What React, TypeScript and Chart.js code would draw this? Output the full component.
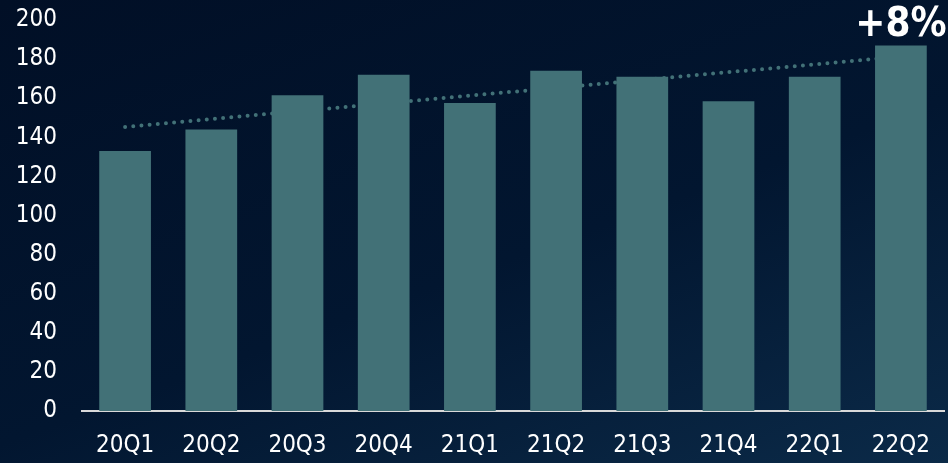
import React, { useEffect, useRef } from "react";
import { Chart, registerables } from "chart.js";

Chart.register(...registerables);

const categories = ["20Q1", "20Q2", "20Q3", "20Q4", "21Q1", "21Q2", "21Q3", "21Q4", "22Q1", "22Q2"];
const values = [133, 144, 161.5, 172, 157.5, 174, 171, 158.5, 171, 187];
const trend = [145.3, null, null, null, null, null, null, null, null, 181.3];
const yTicks = [0, 20, 40, 60, 80, 100, 120, 140, 160, 180, 200];
const growthLabel = "+8%";

const FONT = "'DejaVu Sans Condensed', 'DejaVu Sans', sans-serif";
const BAR = "#427177";

export default function App() {
  const ref = useRef<HTMLCanvasElement | null>(null);
  useEffect(() => {
    if (!ref.current) return;
    const labelPlugin = {
      id: "growthLabel",
      afterDraw(chart: any) {
        const ctx = chart.ctx;
        const meta = chart.getDatasetMeta(1);
        const last = meta.data[meta.data.length - 1];
        const y = chart.scales.y.getPixelForValue(values[values.length - 1]);
        ctx.save();
        ctx.fillStyle = "#ffffff";
        ctx.font = "bold 40px " + FONT;
        ctx.textAlign = "center";
        ctx.textBaseline = "alphabetic";
        ctx.fillText(growthLabel, last.x, y - 9);
        ctx.restore();
      },
    };
    const chart = new Chart(ref.current, {
      type: "bar",
      data: {
        labels: categories,
        datasets: [
          {
            type: "line",
            data: trend,
            spanGaps: true,
            borderColor: BAR,
            borderWidth: 4,
            borderDash: [0, 8.2],
            borderCapStyle: "round",
            pointRadius: 0,
            order: 1,
          } as any,
          {
            type: "bar",
            data: values,
            backgroundColor: BAR,
            barPercentage: 0.6,
            categoryPercentage: 1,
            order: 0,
          },
        ],
      },
      options: {
        animation: false,
        responsive: false,
        devicePixelRatio: 1,
        layout: { padding: { left: 16, right: 4, top: 20, bottom: 3 } },
        plugins: { legend: { display: false }, tooltip: { enabled: false } },
        scales: {
          x: {
            afterFit: (axis: any) => {
              axis.height = 49;
              axis.paddingLeft = 0;
              axis.paddingRight = 0;
            },
            grid: { display: false, drawTicks: false },
            border: { display: true, color: "#d9d9d9", width: 2 },
            ticks: { color: "#ffffff", font: { family: FONT, size: 24 }, padding: 20, maxRotation: 0 },
          },
          y: {
            min: 0,
            max: 200,
            afterBuildTicks: (axis: any) => {
              axis.ticks = yTicks.map((v) => ({ value: v }));
            },
            afterFit: (axis: any) => {
              axis.width = 66;
              axis.paddingTop = 0;
              axis.paddingBottom = 0;
            },
            grid: { display: false, drawTicks: false },
            border: { display: false },
            ticks: { color: "#ffffff", font: { family: FONT, size: 24 }, padding: 25 },
          },
        },
      },
      plugins: [labelPlugin],
    });
    return () => chart.destroy();
  }, []);
  return (
    <div
      style={{
        position: "absolute",
        left: 0,
        top: 0,
        width: 948,
        height: 463,
        background: "linear-gradient(160deg, #010f26 0%, #021630 55%, #0b2a48 100%)",
      }}
    >
      <canvas ref={ref} width={948} height={463} style={{ display: "block", width: 948, height: 463 }} />
    </div>
  );
}
